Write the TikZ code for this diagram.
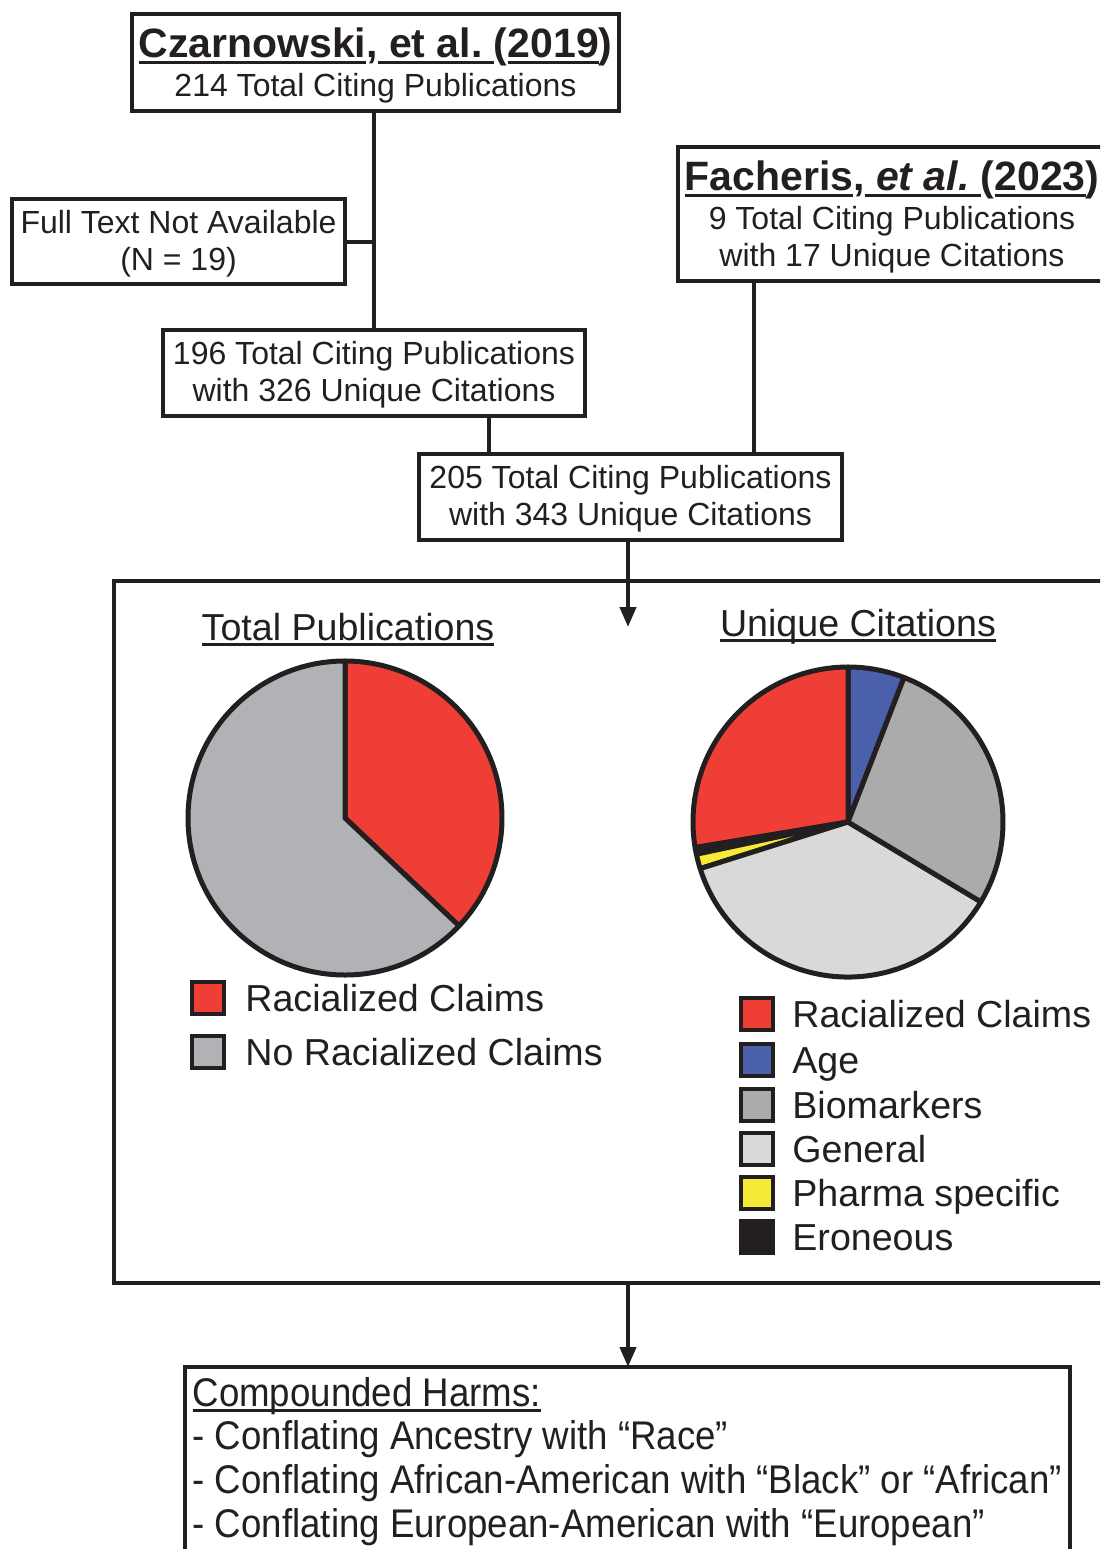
\documentclass[tikz,border=0pt]{standalone}
\usepackage{fontspec}
\setmainfont{Liberation Sans}
\newfontfamily\condfont[FakeStretch=0.916]{Liberation Sans}
\usetikzlibrary{arrows.meta,calc}

\definecolor{ink}{HTML}{231F20}
\definecolor{racered}{HTML}{EF3E36}
\definecolor{ageblue}{HTML}{4A60AA}
\definecolor{biogray}{HTML}{ABABAB}
\definecolor{gengray}{HTML}{D9D9D9}
\definecolor{nogray}{HTML}{B1B2B5}
\definecolor{pharmyel}{HTML}{F5EB36}

\newcommand{\titlefont}{\fontsize{20.5}{24}\selectfont\bfseries}
\newcommand{\topstrut}[1]{\rule{0pt}{#1}}
\newsavebox{\ulbox}
\newcommand{\uln}[1]{\sbox\ulbox{#1}\rlap{\rule[-0.15em]{\wd\ulbox}{0.07em}}\usebox\ulbox}

\tikzset{
  box/.style={draw=ink, line width=2pt, outer sep=0pt, inner sep=0pt, align=center, text=ink, font=\fontsize{16}{18.5}\selectfont},
  link/.style={draw=ink, line width=2pt},
  arr/.style={link, -{Triangle[width=8pt,length=10pt]}},
  slice/.style={draw=ink, line width=2.5pt, line join=round},
  keybox/.style={draw=ink, line width=2pt, minimum size=16pt, inner sep=0pt, outer sep=0pt},
  keytext/.style={anchor=base west, inner sep=0pt, text=ink, font=\fontsize{18.8}{22}\selectfont},
}

\begin{document}
\begin{tikzpicture}[x=0.5pt,y=-0.5pt]
\useasboundingbox (0,0) rectangle (1100,1549);
\clip (0,0) rectangle (1100,1549);

\node[box, minimum width=243.5pt, minimum height=48.5pt] (czar) at (375.5,62.5)
  {\topstrut{18pt}{\titlefont\uln{Czarnowski},\uln{\ et al.\ }(\uln{2019})}\\[1pt]214 Total Citing Publications};
\node[box, minimum width=166.5pt, minimum height=42.5pt] (full) at (178.5,241.5)
  {\topstrut{13.9pt}Full Text Not Available\\(N = 19)};
\node[box, minimum width=211pt, minimum height=43pt] (n196) at (374,373)
  {\topstrut{13.7pt}196 Total Citing Publications\\with 326 Unique Citations};
\node[box, minimum width=214pt, minimum height=67pt] (fach) at (892,214)
  {\topstrut{18pt}{\titlefont\uln{Facheris},\uln{\ \textit{et al.}\ }(\uln{2023})}\\[1pt]9 Total Citing Publications\\with 17 Unique Citations};
\node[box, minimum width=211.5pt, minimum height=43pt] (n205) at (630.5,497)
  {\topstrut{13.7pt}205 Total Citing Publications\\with 343 Unique Citations};

\node[draw=ink, line width=2pt, outer sep=0pt, inner sep=0pt, anchor=north west,
  minimum width=500pt, minimum height=351pt] (panel) at (114,581) {};
\node[draw=ink, line width=2pt, outer sep=0pt, inner xsep=3.8pt, inner ysep=5pt, anchor=north west,
  align=left, text=ink, font=\condfont\fontsize{20}{21.9}\selectfont] (harms) at (185,1367)
  {\uln{Compounded Harms:}\\- Conflating Ancestry with “Race”\\- Conflating African-American with “Black” or “African”\\- Conflating European-American with “European”};

\draw[link] (n196.north |- czar.south) -- (n196.north);
\draw[link] (full.east) -- (full.east -| n196.north);
\coordinate (j196) at ($(n196.south)+(115,0)$);
\draw[link] (j196) -- (j196 |- n205.north);
\coordinate (jfach) at ($(fach.south west)+(76,0)$);
\draw[link] (jfach) -- (jfach |- n205.north);
\coordinate (tip) at (628,627);
\draw[arr] (tip |- n205.south) -- (tip);
\draw[arr] (tip |- panel.south) -- (tip |- harms.north);

% pies
\node[keytext, anchor=base] (totalhead) at (348,640) {\uln{Total Publications}};
\node[keytext, anchor=base] (uniquehead) at (858,636) {\uln{Unique Citations}};

\coordinate (pieA) at (345,818);
\foreach \a/\b/\c in {-43.4/90/racered, 90/316.6/nogray}
  \filldraw[slice, fill=\c] (pieA) -- ++(\a:78.5pt) arc[start angle=\a, end angle=\b, radius=78.5pt] -- cycle;

\coordinate (pieB) at (848,822);
\foreach \a/\b/\c in {68.8/90/ageblue, 90/189.5/racered, 189.5/192/ink, 192/197.5/pharmyel, 197.5/329/gengray, 329/428.8/biogray}
  \filldraw[slice, fill=\c] (pieB) -- ++(\a:77.5pt) arc[start angle=\a, end angle=\b, radius=77.5pt] -- cycle;

\foreach \y/\c/\t [count=\i] in {998/racered/Racialized Claims, 1052/nogray/No Racialized Claims} {
  \node[keybox, fill=\c] (keyA\i) at (208,\y) {};
  \node[keytext] (labA\i) at (245,\y+13.5) {\t};
}
\foreach \y/\c/\t [count=\i] in {1014/racered/Racialized Claims, 1060/ageblue/Age, 1105/biogray/Biomarkers, 1149/gengray/General, 1193/pharmyel/Pharma specific, 1237/ink/Eroneous} {
  \node[keybox, fill=\c] (keyB\i) at (757,\y) {};
  \node[keytext] (labB\i) at (792,\y+13.5) {\t};
}

\end{tikzpicture}
\end{document}
